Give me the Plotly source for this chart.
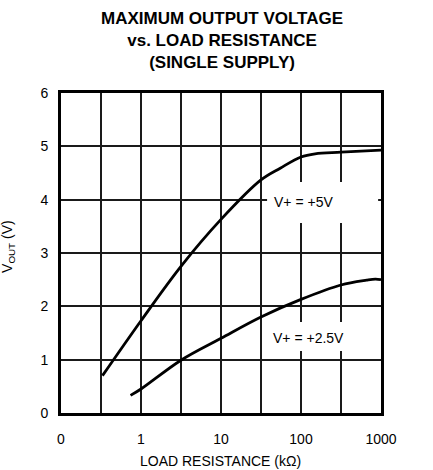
import math
import plotly.graph_objects as go

# ---- data ----
r_5v = [0.33, 1.0, 3.16, 10, 31.6, 55, 100, 150, 316, 1000]
v_5v = [0.70, 1.73, 2.75, 3.63, 4.37, 4.59, 4.80, 4.86, 4.89, 4.93]

r_25v = [0.74, 1.0, 3.16, 10, 31.6, 100, 316, 660, 850, 1000]
v_25v = [0.33, 0.45, 0.99, 1.40, 1.80, 2.13, 2.40, 2.49, 2.51, 2.50]

x_tickvals = [0.1, 1, 10, 100, 1000]
x_ticktext = ["0", "1", "10", "100", "1000"]
x_minor_grid = [10 ** -0.5, 10 ** 0.5, 10 ** 1.5, 10 ** 2.5]
y_tickvals = [0, 1, 2, 3, 4, 5, 6]

title_text = "<b>MAXIMUM OUTPUT VOLTAGE<br>vs. LOAD RESISTANCE<br>(SINGLE SUPPLY)</b>"
x_title = "LOAD RESISTANCE (kΩ)"
y_title = "V<sub>OUT</sub> (V)"
label_5v = "V+ = +5V"
label_25v = "V+ = +2.5V"

FONT = "Liberation Sans, Arial, sans-serif"
GRID = "#1a1a1a"

fig = go.Figure()
for xs, ys in ((r_5v, v_5v), (r_25v, v_25v)):
    fig.add_trace(go.Scatter(x=xs, y=ys, mode="lines",
                             line=dict(color="black", width=2.8, shape="spline", smoothing=1.0),
                             showlegend=False, hoverinfo="skip"))

# white boxes behind the curve labels (they interrupt the grid in the original)
fig.add_shape(type="rect", xref="paper", yref="paper", x0=0.644, x1=0.991, y0=0.594, y1=0.722,
              fillcolor="white", line=dict(width=0), layer="above")
fig.add_shape(type="rect", xref="paper", yref="paper", x0=0.647, x1=0.975, y0=0.194, y1=0.284,
              fillcolor="white", line=dict(width=0), layer="above")

fig.add_annotation(x=math.log10(43.4), y=3.96, text=label_5v, showarrow=False,
                   xanchor="left", yanchor="middle", font=dict(size=14, color="black", family=FONT))
fig.add_annotation(x=math.log10(42.2), y=1.41, text=label_25v, showarrow=False,
                   xanchor="left", yanchor="middle", font=dict(size=14, color="black", family=FONT))

# titles
fig.add_annotation(xref="paper", yref="paper", x=0.503, y=1.1625, text=title_text,
                   showarrow=False, xanchor="center", yanchor="middle",
                   font=dict(size=17, color="black", family=FONT))
fig.add_annotation(xref="paper", yref="paper", x=0.497, y=-0.15, text=x_title,
                   showarrow=False, xanchor="center", yanchor="middle",
                   font=dict(size=14, color="black", family=FONT))
fig.add_annotation(xref="paper", yref="paper", x=-0.1656, y=0.519, text=y_title,
                   showarrow=False, xanchor="center", yanchor="middle", textangle=-90,
                   font=dict(size=14, color="black", family=FONT))

fig.update_layout(
    width=433, height=470,
    margin=dict(l=61, r=52, t=93, b=57),
    paper_bgcolor="white", plot_bgcolor="white",
    font=dict(family=FONT, size=14, color="black"),
)
fig.update_xaxes(type="log", range=[-1, 3], tickvals=x_tickvals, ticktext=x_ticktext,
                 showgrid=True, gridcolor=GRID, gridwidth=1.5,
                 minor=dict(tickvals=x_minor_grid, showgrid=True, gridcolor=GRID, gridwidth=1.5, ticks=""),
                 showline=True, linecolor="black", linewidth=3, mirror=True,
                 ticks="", ticklabelstandoff=11, zeroline=False)
fig.update_yaxes(range=[0, 6], tickvals=y_tickvals,
                 showgrid=True, gridcolor=GRID, gridwidth=1.5,
                 showline=True, linecolor="black", linewidth=3, mirror=True,
                 ticks="", ticklabelstandoff=7, zeroline=False)

# remove the browser's default 8px page margin so the figure sits at the window's corner
fig.write_html("out.html", config={"displayModeBar": False},
               post_script="document.body.style.margin='0';")
